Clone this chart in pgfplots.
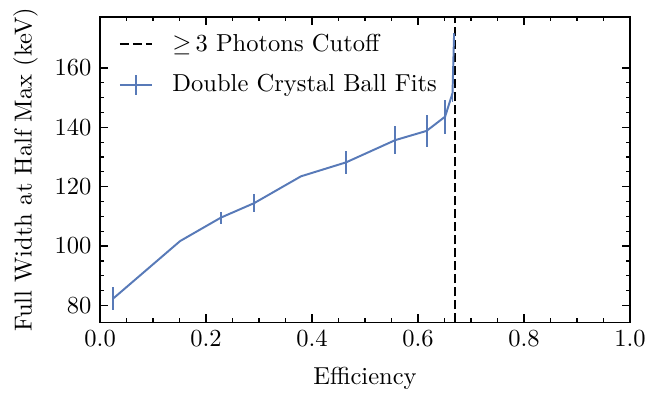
\documentclass[border=0pt]{standalone}
\usepackage{pgfplots}
\pgfplotsset{compat=1.18}
\definecolor{sblue}{RGB}{88,122,184}
\begin{document}
\begin{tikzpicture}
\begin{axis}[
  scale only axis,
  width=216pt, height=124.5pt,
  xmin=0, xmax=1, ymin=74.3, ymax=177.2,
  xtick={0,0.2,0.4,0.6,0.8,1.0},
  xticklabel style={/pgf/number format/.cd,fixed,fixed zerofill,precision=1},
  ytick={80,100,120,140,160},
  minor x tick num=3, minor y tick num=3,
  tick align=inside, tick pos=both,
  major tick length=3.3pt, minor tick length=1.7pt,
  tick style={black, line width=0.5pt},
  axis line style={line width=0.6pt},
  xlabel={Efficiency}, ylabel={Full Width at Half Max (keV)},
  xlabel style={yshift=-1.5pt},
  legend style={draw=none, fill=none, at={(0.03,0.97)}, anchor=north west, row sep=4pt, inner sep=1pt,
    /tikz/every odd column/.append style={column sep=6pt}},
  legend cell align=left,
]
\addplot[black, dash pattern=on 3.7pt off 1.6pt, line width=0.8pt,
  legend image code/.code={\draw[black, line width=0.8pt, dash pattern=on 3.7pt off 1.6pt] (0pt,0pt)--(13pt,0pt);}]
  coordinates {(0.670,74.3) (0.670,177.2)};
\addlegendentry{$\geq$\,3 Photons Cutoff}
\addplot[sblue, line width=0.8pt, mark=none,
  legend image code/.code={\draw[sblue, line width=0.8pt] (0pt,0pt)--(13pt,0pt); \draw[sblue, line width=0.8pt] (6.5pt,-4pt)--(6.5pt,4pt);},
  error bars/.cd, y dir=both, y explicit, error mark=none,
  error bar style={line width=0.8pt, sblue}]
  coordinates {
  (0.0245,82.3) +- (0,3.8)
  (0.151,101.7) +- (0,0)
  (0.228,109.6) +- (0,2.0)
  (0.291,114.5) +- (0,3.0)
  (0.379,123.5) +- (0,0)
  (0.464,128.2) +- (0,3.9)
  (0.557,135.7) +- (0,4.7)
  (0.616,138.8) +- (0,5.5)
  (0.651,143.6) +- (0,5.7)
  (0.665,151.5) +- (0,3.0)
  (0.668,171.7) +- (0,0)
  };
\addlegendentry{Double Crystal Ball Fits}
\end{axis}
\pgfresetboundingbox
\path[use as bounding box] ([shift={(-40.8pt,-29.4pt)}]current axis.south west) rectangle ([shift={(11.8pt,6.9pt)}]current axis.north east);
\end{tikzpicture}
\end{document}
